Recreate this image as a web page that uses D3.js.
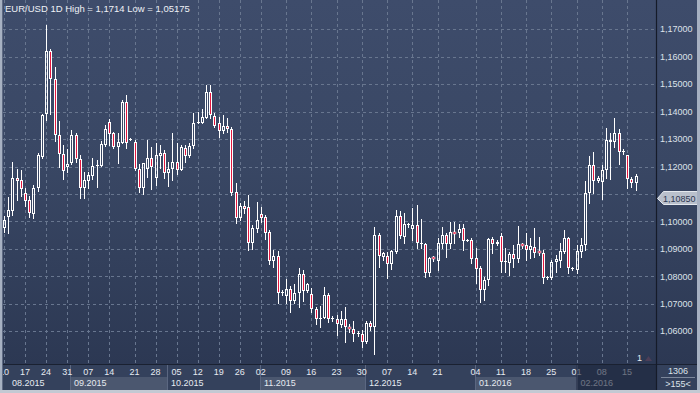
<!DOCTYPE html>
<html><head><meta charset="utf-8">
<script src="https://cdn.jsdelivr.net/npm/d3@7"></script>
<style>html,body{margin:0;padding:0;background:#33405b;overflow:hidden}svg{display:block}</style>
</head><body>
<svg id="c" width="700" height="393"></svg>
<script>
const opens = [1.0976,1.1017,1.1039,1.1157,1.1151,1.1103,1.1077,1.1026,1.1121,1.1236,
1.1390,1.1622,1.1518,1.1315,1.1245,1.1197,1.1212,1.1315,1.1228,1.1121,
1.1147,1.1167,1.1202,1.1203,1.1279,1.1362,1.1321,1.1270,1.1287,1.1434,
1.1300,1.1291,1.1191,1.1121,1.1190,1.1230,1.1157,1.1240,1.1248,1.1175,
1.1192,1.1217,1.1188,1.1269,1.1239,1.1275,1.1360,1.1358,1.1378,1.1473,
1.1385,1.1358,1.1330,1.1348,1.1338,1.1106,1.1014,1.1056,1.1053,1.0921,
1.0973,1.1026,1.1016,1.0963,1.0857,1.0874,1.0741,1.0729,1.0753,1.0712,
1.0738,1.0808,1.0748,1.0735,1.0682,1.0644,1.0650,1.0732,1.0646,1.0644,
1.0623,1.0646,1.0617,1.0610,1.0592,1.0590,1.0562,1.0629,1.0615,1.0951,
1.0872,1.0874,1.0844,1.0890,1.1020,1.0945,1.0990,1.0972,1.0987,1.0921,
1.0917,1.0814,1.0872,1.0857,1.0918,1.0951,1.0918,1.0963,1.0957,1.0975,
1.0932,1.0933,1.0866,1.0832,1.0751,1.0787,1.0935,1.0918,1.0947,1.0853,
1.0850,1.0882,1.0862,1.0918,1.0914,1.0896,1.0908,1.0893,1.0886,1.0795,
1.0793,1.0854,1.0857,1.0890,1.0939,1.0830,1.0823,1.0890,1.0914,1.1105,
1.1206,1.1149,1.1145,1.1188,1.1291,1.1291,1.1323,1.1254,1.1242,1.1154,1.1141];
const highs = [1.1020,1.1090,1.1218,1.1191,1.1188,1.1121,1.1093,1.1133,1.1248,1.1390,
1.1714,1.1627,1.1564,1.1366,1.1279,1.1263,1.1333,1.1321,1.1242,1.1181,
1.1181,1.1230,1.1224,1.1293,1.1351,1.1374,1.1327,1.1321,1.1443,1.1461,
1.1304,1.1297,1.1209,1.1214,1.1297,1.1272,1.1285,1.1279,1.1260,1.1218,
1.1321,1.1287,1.1279,1.1279,1.1285,1.1394,1.1400,1.1409,1.1497,1.1497,
1.1394,1.1382,1.1388,1.1376,1.1345,1.1139,1.1066,1.1076,1.1097,1.0987,
1.1072,1.1054,1.1024,1.0969,1.0896,1.0893,1.0751,1.0790,1.0765,1.0772,
1.0830,1.0823,1.0777,1.0757,1.0690,1.0692,1.0763,1.0738,1.0656,1.0659,
1.0675,1.0688,1.0627,1.0639,1.0601,1.0605,1.0639,1.0638,1.0981,1.0959,
1.0890,1.0890,1.0896,1.1042,1.1039,1.1030,1.0996,1.1050,1.1060,1.1008,
1.0921,1.0872,1.0874,1.0939,1.0981,1.0957,1.0999,1.0999,1.0990,1.0991,
1.0937,1.0939,1.0902,1.0838,1.0797,1.0939,1.0945,1.0933,1.0957,1.0902,
1.0890,1.0914,1.0984,1.0923,1.0957,1.0939,1.0975,1.0945,1.0896,1.0800,
1.0860,1.0878,1.0921,1.0969,1.0945,1.0835,1.0914,1.0939,1.1149,1.1239,
1.1254,1.1166,1.1206,1.1339,1.1321,1.1376,1.1336,1.1263,1.1242,1.1161,1.1173];
const lows = [1.0962,1.0957,1.1024,1.1078,1.1094,1.1058,1.1015,1.1014,1.1111,1.1230,
1.1370,1.1393,1.1293,1.1200,1.1154,1.1181,1.1208,1.1216,1.1085,1.1087,
1.1121,1.1155,1.1127,1.1203,1.1276,1.1279,1.1267,1.1212,1.1287,1.1267,
1.1297,1.1188,1.1109,1.1100,1.1163,1.1117,1.1133,1.1194,1.1157,1.1129,
1.1151,1.1173,1.1188,1.1218,1.1234,1.1267,1.1358,1.1358,1.1376,1.1376,
1.1345,1.1309,1.1323,1.1327,1.1097,1.0993,1.1005,1.1030,1.0896,1.0899,
1.0963,1.0999,1.0935,1.0844,1.0833,1.0704,1.0732,1.0704,1.0671,1.0704,
1.0690,1.0712,1.0744,1.0671,1.0627,1.0615,1.0648,1.0635,1.0638,1.0587,
1.0617,1.0562,1.0599,1.0566,1.0583,1.0544,1.0556,1.0605,1.05175,1.0833,
1.0860,1.0795,1.0827,1.0884,1.0939,1.0923,1.0981,1.0933,1.0902,1.0902,
1.0799,1.0802,1.0857,1.0823,1.0902,1.0872,1.0902,1.0921,1.0945,1.0896,
1.0927,1.0848,1.0777,1.0708,1.0714,1.0769,1.0884,1.0914,1.0817,1.0817,
1.0805,1.0833,1.0854,1.0902,1.0860,1.0866,1.0872,1.0878,1.0777,1.0790,
1.0790,1.0817,1.0835,1.0884,1.0811,1.0823,1.0811,1.0872,1.0896,1.1068,
1.1105,1.1145,1.1081,1.1157,1.1154,1.1272,1.1209,1.1246,1.1121,1.1125,1.1115];
const closes = [1.1005,1.1042,1.1157,1.1149,1.1117,1.1076,1.1030,1.1122,1.1242,1.1388,
1.1622,1.1518,1.1315,1.1245,1.1184,1.1208,1.1315,1.1228,1.1121,1.1151,
1.1169,1.1202,1.1206,1.1281,1.1337,1.1319,1.1270,1.1288,1.1434,1.1287,
1.1302,1.1190,1.1121,1.1212,1.1230,1.1197,1.1242,1.1248,1.1175,1.1190,
1.1217,1.1188,1.1272,1.1239,1.1275,1.1358,1.1362,1.1382,1.1473,1.1388,
1.1348,1.1330,1.1348,1.1337,1.1105,1.1012,1.1056,1.1047,1.0921,1.0977,
1.1005,1.1014,1.0959,1.0857,1.0874,1.0741,1.0742,1.0753,1.0712,1.0738,
1.0808,1.0748,1.0771,1.0682,1.0644,1.0650,1.0732,1.0644,1.0647,1.0626,
1.0646,1.0615,1.0607,1.0590,1.0593,1.0562,1.0629,1.0615,1.0951,1.0874,
1.0884,1.0845,1.0893,1.1020,1.0947,1.0990,1.0991,1.0987,1.0921,1.0923,
1.0814,1.0868,1.0863,1.0921,1.0951,1.0918,1.0963,1.0954,1.0972,1.0930,
1.0933,1.0863,1.0826,1.0751,1.0787,1.0935,1.0918,1.0924,1.0854,1.0856,
1.0882,1.0862,1.0918,1.0911,1.0896,1.0911,1.0884,1.0884,1.0793,1.0796,
1.0854,1.0862,1.0893,1.0939,1.0830,1.0831,1.0893,1.0914,1.1104,1.1206,
1.1149,1.1157,1.1188,1.1297,1.1297,1.1323,1.1254,1.1255,1.1154,1.1139,1.1166];

const tickIdx = [0,5,10,15,20,25,31,36,41,46,51,56,61,67,73,79,85,91,97,103,112,118,124,130,136,142,148];
const tickLabels = ["10","17","24","31","07","14","21","28","05","12","19","26","02","09","16","23","30","07","14","21","04","11","18","25","01","08","15"];
const months = ["08.2015","09.2015","10.2015","11.2015","12.2015","01.2016","02.2016"];
const monthStart = [0,16,39,61,86,112,136];
const priceTicks = [1.06,1.07,1.08,1.09,1.10,1.11,1.12,1.13,1.14,1.15,1.16,1.17];
const titleText = "EUR/USD 1D High = 1,1714 Low = 1,05175";
const lastLabel = 1.10850;
const barCountText = "1306";
const zoomText = ">155<";

const W = 700, H = 393, plotR = 656, axisTop = 364, axisBot = 390;
const FONT = "'Liberation Sans', Arial, sans-serif";
const svg = d3.select("#c");
const defs = svg.append("defs");
const grad = defs.append("linearGradient").attr("id","bg").attr("x1",0).attr("y1",0).attr("x2",0).attr("y2",1);
grad.append("stop").attr("offset","0%").attr("stop-color","#3e4c6b");
grad.append("stop").attr("offset","45%").attr("stop-color","#394764");
grad.append("stop").attr("offset","100%").attr("stop-color","#2c3853");

const n = opens.length;
const x = d3.scaleLinear().domain([0, n-1]).range([4, 635.5]);
const y = d3.scaleLinear().domain([1.04807, 1.18067]).range([axisTop, 0]);
const fmt = v => d3.format(".5f")(v).replace(".", ",");

// backgrounds
svg.append("rect").attr("x",0).attr("y",0).attr("width",W).attr("height",axisTop).attr("fill","url(#bg)");
svg.append("rect").attr("x",0).attr("y",axisTop).attr("width",W).attr("height",H-axisTop).attr("fill","#34415c");

// grid
const grid = svg.append("g").attr("stroke","#68768f").attr("stroke-dasharray","3,3").attr("stroke-width",1);
grid.selectAll("line.h").data(priceTicks).join("line").attr("class","h")
  .attr("x1",3).attr("x2",plotR).attr("y1",d=>Math.round(y(d))+0.5).attr("y2",d=>Math.round(y(d))+0.5);
grid.selectAll("line.v").data(tickIdx).join("line").attr("class","v")
  .attr("x1",d=>Math.round(x(d))+0.5).attr("x2",d=>Math.round(x(d))+0.5).attr("y1",0).attr("y2",axisTop);

// candles
const cg = svg.append("g");
d3.range(n).forEach(i => {
  const o = opens[i], h = highs[i], l = lows[i], c = closes[i];
  const px = Math.round(x(i));
  const top = Math.round(y(Math.max(o,c)));
  const bot = Math.round(y(Math.min(o,c)));
  const yh = Math.round(y(h)), yl = Math.round(y(l));
  const up = c >= o;
  if (bot - top <= 2) {
    cg.append("line").attr("x1",px+0.5).attr("x2",px+0.5).attr("y1",yh).attr("y2",yl+1).attr("stroke","#fff");
    cg.append("rect").attr("x",px-1).attr("y",top).attr("width",3).attr("height",Math.max(1,bot-top)).attr("fill", up ? "#fff" : "#e3173f").attr("stroke", up?"none":"#fff").attr("stroke-width",0.5);
    return;
  }
  cg.append("line").attr("x1",px+0.5).attr("x2",px+0.5).attr("y1",yh).attr("y2",top).attr("stroke","#fff");
  cg.append("line").attr("x1",px+0.5).attr("x2",px+0.5).attr("y1",bot).attr("y2",yl+1).attr("stroke","#fff");
  cg.append("rect").attr("x",px-0.5).attr("y",top+0.5).attr("width",2).attr("height",bot-top-1)
    .attr("fill", up ? "none" : "#e3173f").attr("stroke","#fff").attr("stroke-width",1);
});

// title
svg.append("text").attr("x",5).attr("y",12).attr("fill","#eef1f6").attr("font-family",FONT).attr("font-size","9.5px").text(titleText);

// marker "1"
svg.append("text").attr("x",637).attr("y",361).attr("fill","#e8ecf2").attr("font-family",FONT).attr("font-size","9px").text("1");
svg.append("path").attr("d","M645,361 L648.5,356 L652,361 Z").attr("fill","#4d3f58");

// axis band: month boxes
const mb = months.map((m,i) => {
  const x0 = i===0 ? 3 : (i===months.length-1 ? x(monthStart[i]) : Math.round(x(monthStart[i]))-1);
  const x1 = i<months.length-1 ? (i+1===months.length-1 ? x(monthStart[i+1]) : Math.round(x(monthStart[i+1]))-1) : plotR;
  return {m, i, x0, x1};
});
const ax = svg.append("g");
ax.selectAll("rect.mb").data(mb.filter(d=>d.i%2===1)).join("rect").attr("class","mb")
  .attr("x",d=>d.x0).attr("y",377).attr("width",d=>d.x1-d.x0).attr("height",axisBot-377).attr("fill","#4b576f");
ax.selectAll("line.sep").data(mb.filter(d=>d.i>0)).join("line").attr("class","sep")
  .attr("x1",d=>Math.round(d.x0)+0.5).attr("x2",d=>Math.round(d.x0)+0.5).attr("y1",axisTop+1).attr("y2",axisBot).attr("stroke","#5b6781");
ax.selectAll("text.tk").data(tickIdx).join("text").attr("class","tk")
  .attr("x",d=>x(d)).attr("y",375).attr("text-anchor","middle").attr("fill","#e6eaf1")
  .attr("font-family",FONT).attr("font-size","9px").text((d,i)=>tickLabels[i]);
ax.selectAll("text.mo").data(mb).join("text").attr("class","mo")
  .attr("x",d=>Math.max(d.x0+4,12)).attr("y",386).attr("fill","#e6eaf1")
  .attr("font-family",FONT).attr("font-size","9px").text(d=>d.m);
// shaded current month
const last = mb[mb.length-1];
svg.append("rect").attr("x",last.x0).attr("y",axisTop+1).attr("width",plotR-last.x0).attr("height",axisBot-axisTop-1).attr("fill","#1b2338").attr("opacity",0.6);

// axis lines
svg.append("line").attr("x1",0).attr("x2",W).attr("y1",axisTop+0.5).attr("y2",axisTop+0.5).attr("stroke","#1a2131").attr("stroke-width",1);
svg.append("line").attr("x1",plotR+0.5).attr("x2",plotR+0.5).attr("y1",0).attr("y2",axisBot).attr("stroke","#151b29").attr("stroke-width",1.2);

// price axis labels (the one hidden behind the last-price box is not drawn)
const ly = Math.round(y(lastLabel));
svg.append("g").selectAll("text").data(priceTicks.filter(p => Math.abs(y(p) - ly) > 9)).join("text")
  .attr("x",660).attr("y",d=>y(d)+3.2).attr("fill","#dde2ea").attr("font-family",FONT).attr("font-size","9px").text(fmt);

// last price label
svg.append("path").attr("d",`M657.5,${ly+0.5} L663.5,${ly-6.5} L697.5,${ly-6.5} L697.5,${ly+6.5} L663.5,${ly+6.5} Z`)
  .attr("fill","#b9c0cc").attr("stroke","#e4e8ee").attr("stroke-width",1);
svg.append("text").attr("x",663).attr("y",ly+3.5).attr("fill","#2c3752").attr("font-family",FONT).attr("font-size","9px").text(fmt(lastLabel));

// bottom-right info
svg.append("text").attr("x",678).attr("y",374).attr("text-anchor","middle").attr("fill","#dde2ea").attr("font-family",FONT).attr("font-size","9px").text(barCountText);
svg.append("line").attr("x1",661).attr("x2",695).attr("y1",377.5).attr("y2",377.5).attr("stroke","#7c879b");
svg.append("text").attr("x",678).attr("y",386.5).attr("text-anchor","middle").attr("fill","#dde2ea").attr("font-family",FONT).attr("font-size","9px").text(zoomText);

// frame
svg.append("rect").attr("x",0).attr("y",0).attr("width",2).attr("height",H).attr("fill","#a7b1c2");
svg.append("rect").attr("x",2).attr("y",0).attr("width",1).attr("height",H).attr("fill","#5e6a83");
svg.append("rect").attr("x",697).attr("y",0).attr("width",3).attr("height",H).attr("fill","#a7b1c2");
svg.append("rect").attr("x",0).attr("y",axisBot).attr("width",W).attr("height",H-axisBot).attr("fill","#c3c9d3");
</script>
</body></html>
